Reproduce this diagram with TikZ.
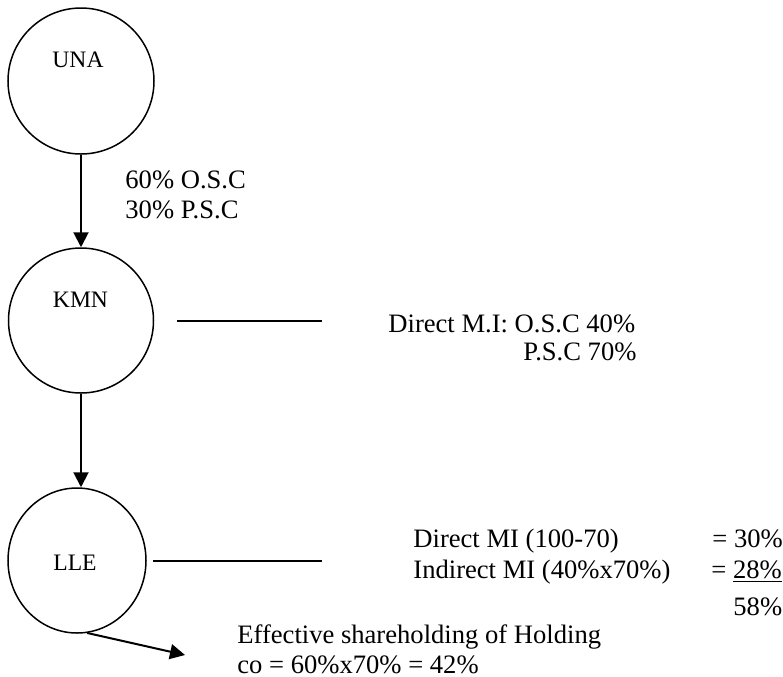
\documentclass[tikz,border=0pt]{standalone}
\usepackage{fontspec}
\setmainfont{Liberation Serif}
\usetikzlibrary{arrows.meta,shapes.geometric}
\begin{document}
\begin{tikzpicture}[x=0.5pt,y=-0.5pt,
  entity/.style={draw,line width=0.75pt,inner sep=0pt},
  flow/.style={line width=1pt,-{Triangle[length=7.5pt,width=7.5pt]}},
  link/.style={line width=1pt},
  tag/.style={font=\fontsize{11.8}{14}\selectfont,inner sep=0pt,anchor=base},
  note/.style={font=\fontsize{13.3}{15}\selectfont,inner sep=0pt,anchor=base west}]
\useasboundingbox (0,0) rectangle (783,676);

% companies
\node[entity,circle,minimum size=73pt] (una) at (81,81) {};
\node[entity,circle,minimum size=72.5pt] (kmn) at (81,320.5) {};
\node[entity,ellipse,minimum width=69pt,minimum height=72.5pt] (lle) at (77,560.5) {};

\node[tag] (unaname) at (78,67) {UNA};
\node[tag] (kmnname) at (80.5,307) {KMN};
\node[tag] (llename) at (75,570) {LLE};

% holdings
\draw[flow] (una.south) -- (kmn.north);
\draw[flow] (kmn.south) -- (kmn.south |- lle.north);

\coordinate (kmnA) at (177,321);
\coordinate (kmnB) at (322,321);
\draw[link] (kmnA) -- (kmnB);

\coordinate (lleA) at (153,561);
\coordinate (lleB) at (322,561);
\draw[link] (lleA) -- (lleB);

\coordinate (holdtip) at (185,655);
\draw[flow] (lle.-82) -- (holdtip);

% figures
\node[note] (osc) at (125,188) {60\% O.S.C};
\node[note] (psc) at (125,218) {30\% P.S.C};

\node[note] (dmi1) at (388,332) {Direct M.I: O.S.C 40\%};
\node[note] (dmi2) at (523,360) {P.S.C 70\%};

\node[note] (dmi) at (413,547) {Direct MI (100-70)};
\node[note] (imi) at (413,578) {Indirect MI (40\%x70\%)};
\node[note] (dmiv) at (712,547) {= 30\%};
\node[note] (imiv) at (711,578) {= \underline{28\%}};
\node[note] (total) at (733,615) {58\%};

\node[note] (eff1) at (237,643) {Effective shareholding of Holding};
\node[note] (eff2) at (237,673) {co = 60\%x70\% = 42\%};
\end{tikzpicture}
\end{document}
